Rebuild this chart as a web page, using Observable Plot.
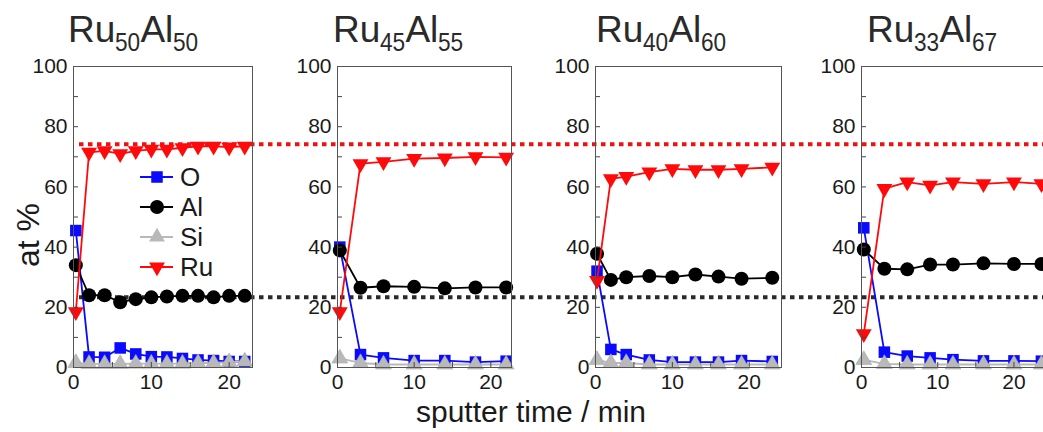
<!DOCTYPE html>
<html><head><meta charset="utf-8">
<script src="https://cdn.jsdelivr.net/npm/d3@7"></script>
<script src="https://cdn.jsdelivr.net/npm/@observablehq/plot@0.6"></script>
<style>
body{margin:0;background:#fff;overflow:hidden;font-family:"Liberation Sans",Arial,sans-serif;color:#1a1a1a}
#chart{position:relative;width:1043px;height:432px;overflow:hidden;background:#fff}
#chart svg{position:absolute;top:0}
.abs{position:absolute;white-space:nowrap;line-height:1}
.title{font-size:37px;top:11.4px;color:#2a2a2a}
.title .s{display:inline-block;font-size:26px;vertical-align:-9px;transform:scaleX(0.87);transform-origin:0 0;margin-right:-3.8px}
.leg{position:absolute;left:138px;top:162px}
.leg .row{display:flex;align-items:center;height:30px;font-size:26px}
.leg svg{position:static !important;margin-right:6px}
</style></head><body><div id="chart"></div>
<script>
// ---- data ----
const elements = ["O", "Al", "Si", "Ru"];
const colors = ["#0a0aff", "#000000", "#b9b9b9", "#ff0a0a"];
const ruIndex = ["50", "45", "40", "33"];
const alIndex = ["50", "55", "60", "67"];
const refLevels = [74.2, 23.3];           // dotted reference lines (Ru, Al)
const yTicks = [0, 20, 40, 60, 80, 100];
const xTicks = [0, 10, 20];

// Ru50Al50
const t1  = [0.3, 2, 4, 6, 8, 10, 12, 14, 16, 18, 20, 22];
const O1  = [45.5, 3.5, 3.4, 6.5, 4.5, 3.6, 3.5, 3.0, 2.5, 2.3, 2.0, 2.0];
const Al1 = [34.0, 24.0, 24.0, 21.7, 22.7, 23.3, 23.6, 23.8, 23.8, 23.3, 23.8, 23.8];
const Si1 = [1.5, 1.2, 1.2, 1.2, 1.3, 1.3, 1.3, 1.3, 1.5, 1.5, 1.8, 2.0];
const Ru1 = [18.5, 71.5, 72.0, 71.0, 72.0, 72.5, 72.5, 73.0, 73.5, 73.5, 73.2, 73.5];
// Ru45Al55
const t2  = [0.3, 3, 6, 10, 14, 18, 22];
const O2  = [40.0, 4.3, 3.2, 2.3, 2.3, 1.8, 2.1];
const Al2 = [38.9, 26.5, 27.0, 26.8, 26.3, 26.6, 26.6];
const Si2 = [3.0, 1.5, 1.0, 1.0, 1.0, 1.0, 1.0];
const Ru2 = [18.5, 67.7, 68.3, 69.4, 69.6, 70.0, 69.8];
// Ru40Al60
const t3  = [0.2, 2, 4, 7, 10, 13, 16, 19, 23];
const O3  = [32.0, 6.0, 4.3, 2.5, 1.8, 1.8, 1.8, 2.3, 2.0];
const Al3 = [37.8, 29.1, 30.0, 30.4, 30.0, 30.9, 30.2, 29.5, 29.8];
const Si3 = [2.5, 1.5, 1.5, 1.0, 1.0, 1.0, 1.0, 1.0, 1.0];
const Ru3 = [28.9, 62.7, 63.4, 64.9, 66.0, 65.7, 65.7, 66.0, 66.5];
// Ru33Al67
const t4  = [0.3, 3, 6, 9, 12, 16, 20, 23.6];
const O4  = [46.4, 5.1, 3.8, 3.2, 2.6, 2.2, 2.2, 2.1];
const Al4 = [39.2, 32.8, 32.6, 34.2, 34.2, 34.6, 34.4, 34.4];
const Si4 = [2.5, 1.2, 1.0, 1.0, 1.0, 1.0, 1.0, 1.0];
const Ru4 = [11.2, 59.4, 61.6, 60.5, 61.6, 61.0, 61.6, 61.0];

const panelData = [
  {t: t1, O: O1, Al: Al1, Si: Si1, Ru: Ru1, xmax: 23.0},
  {t: t2, O: O2, Al: Al2, Si: Si2, Ru: Ru2, xmax: 22.7},
  {t: t3, O: O3, Al: Al3, Si: Si3, Ru: Ru3, xmax: 24.2},
  {t: t4, O: O4, Al: Al4, Si: Si4, Ru: Ru4, xmax: 24.4}
];

// ---- layout ----
const frameLeft = [73, 337, 595, 861];
const frameWidth = [179, 174, 186, 186];
const titleLeft = [68, 333, 596, 867];
const ML = 50, MR = 2, MT = 66, MB = 33, H = 400;
const symbols = ["square", "circle", "triangle", "triangle"];
const rotations = [0, 0, 0, 180];
const radii = [6.5, 7, 5.9, 5.9];

const chart = document.getElementById("chart");
const baseStyle = {background: "transparent", overflow: "visible",
  fontFamily: "'Liberation Sans', Arial, sans-serif", fontSize: "21px", color: "#1a1a1a"};

// dotted reference lines, behind the panels
const overlay = Plot.plot({
  width: 1043, height: H, marginTop: MT, marginBottom: MB, marginLeft: 79, marginRight: 0,
  y: {domain: [0, 100], axis: null},
  style: baseStyle,
  marks: [
    Plot.ruleY([refLevels[0]], {stroke: "#ee1111", strokeWidth: 4, strokeDasharray: "4.5,4.5"}),
    Plot.ruleY([refLevels[1]], {stroke: "#2a2a2a", strokeWidth: 4, strokeDasharray: "4.5,4.5"})
  ]
});
overlay.style.left = "0px";
chart.appendChild(overlay);

panelData.forEach((p, k) => {
  const marks = [];
  elements.forEach((el, i) => {
    const rows = p.t.map((t, j) => ({t, v: p[el][j]}));
    marks.push(Plot.line(rows, {x: "t", y: "v", stroke: colors[i], strokeWidth: 1.8}));
    marks.push(Plot.dot(rows, {x: "t", y: "v", symbol: symbols[i], fill: colors[i],
      r: radii[i], rotate: rotations[i], stroke: i === 2 ? "#aaaaaa" : "none", strokeWidth: 0.6}));
  });
  const fw = frameWidth[k];
  const svg = Plot.plot({
    width: ML + fw + MR, height: H, marginLeft: ML, marginRight: MR, marginTop: MT, marginBottom: MB,
    x: {domain: [0, p.xmax]},
    y: {domain: [0, 100]},
    style: baseStyle,
    marks: [
      ...marks,
      Plot.tickY(d3.range(0, 101, 10), {stroke: "#444", insetRight: fw - 5}),
      Plot.tickX([0, 5, 10, 15, 20], {stroke: "#444", insetTop: H - MT - MB - 5}),
      Plot.frame({stroke: "#555", strokeWidth: 1}),
      Plot.axisY({ticks: yTicks, tickSize: 0, tickPadding: 6, fontSize: 21, label: null}),
      Plot.axisX({ticks: xTicks, tickSize: 0, tickPadding: 7, fontSize: 21, label: null})
    ]
  });
  svg.style.left = (frameLeft[k] - ML) + "px";
  chart.appendChild(svg);

  const title = document.createElement("div");
  title.className = "abs title";
  title.style.left = titleLeft[k] + "px";
  title.innerHTML = `Ru<span class="s">${ruIndex[k]}</span>Al<span class="s">${alIndex[k]}</span>`;
  chart.appendChild(title);
});

// legend
const leg = document.createElement("div");
leg.className = "leg";
elements.forEach((el, i) => {
  const row = document.createElement("div");
  row.className = "row";
  const path = d3.symbol().type({square: d3.symbolSquare, circle: d3.symbolCircle, triangle: d3.symbolTriangle}[symbols[i]])
    .size(Math.PI * radii[i] * radii[i])();
  row.innerHTML = `<svg width="36" height="30"><line x1="2" x2="35" y1="15" y2="15" stroke="${colors[i]}" stroke-width="1.8"/>` +
    `<path d="${path}" transform="translate(19,15) rotate(${rotations[i]})" fill="${colors[i]}"/></svg><span>${el}</span>`;
  leg.appendChild(row);
});
chart.appendChild(leg);

// axis titles
const yl = document.createElement("div");
yl.className = "abs";
yl.style.cssText = "left:28px;top:235px;font-size:32px;line-height:24px;transform:translate(-50%,-50%) rotate(-90deg);";
yl.textContent = "at %";
chart.appendChild(yl);

const xl = document.createElement("div");
xl.className = "abs";
xl.style.cssText = "left:531px;top:395.3px;font-size:30px;line-height:1.117;transform:translateX(-50%);";
xl.textContent = "sputter time / min";
chart.appendChild(xl);
</script></body></html>
